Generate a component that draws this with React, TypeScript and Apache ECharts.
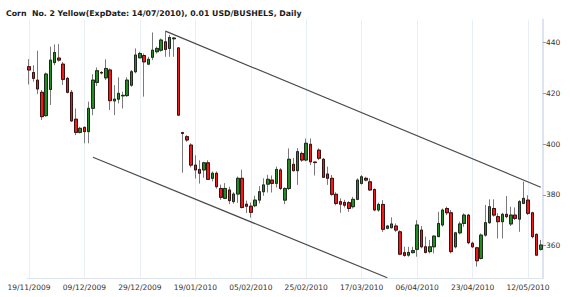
import React, { useEffect, useRef } from 'react';
import * as echarts from 'echarts';

const titleText = 'Corn  No. 2 Yellow(ExpDate: 14/07/2010), 0.01 USD/BUSHELS, Daily';

const dates = [
  '19/11/2009', '20/11/2009', '23/11/2009', '24/11/2009', '25/11/2009', '27/11/2009', '30/11/2009',
  '01/12/2009', '02/12/2009', '03/12/2009', '04/12/2009', '07/12/2009', '08/12/2009', '09/12/2009',
  '10/12/2009', '11/12/2009', '14/12/2009', '15/12/2009', '16/12/2009', '17/12/2009', '18/12/2009',
  '21/12/2009', '22/12/2009', '23/12/2009', '24/12/2009', '28/12/2009', '29/12/2009', '30/12/2009',
  '31/12/2009', '04/01/2010', '05/01/2010', '06/01/2010', '07/01/2010', '08/01/2010', '11/01/2010',
  '12/01/2010', '13/01/2010', '14/01/2010', '15/01/2010', '19/01/2010', '20/01/2010', '21/01/2010',
  '22/01/2010', '25/01/2010', '26/01/2010', '27/01/2010', '28/01/2010', '29/01/2010', '01/02/2010',
  '02/02/2010', '03/02/2010', '04/02/2010', '05/02/2010', '08/02/2010', '09/02/2010', '10/02/2010',
  '11/02/2010', '12/02/2010', '16/02/2010', '17/02/2010', '18/02/2010', '19/02/2010', '22/02/2010',
  '23/02/2010', '24/02/2010', '25/02/2010', '26/02/2010', '01/03/2010', '02/03/2010', '03/03/2010',
  '04/03/2010', '05/03/2010', '08/03/2010', '09/03/2010', '10/03/2010', '11/03/2010', '12/03/2010',
  '15/03/2010', '17/03/2010', '18/03/2010', '19/03/2010', '22/03/2010', '23/03/2010', '24/03/2010',
  '25/03/2010', '26/03/2010', '29/03/2010', '30/03/2010', '31/03/2010', '01/04/2010', '05/04/2010',
  '06/04/2010', '07/04/2010', '08/04/2010', '09/04/2010', '12/04/2010', '13/04/2010', '14/04/2010',
  '15/04/2010', '16/04/2010', '19/04/2010', '20/04/2010', '21/04/2010', '22/04/2010', '23/04/2010',
  '26/04/2010', '27/04/2010', '28/04/2010', '29/04/2010', '30/04/2010', '03/05/2010', '04/05/2010',
  '05/05/2010', '06/05/2010', '07/05/2010', '10/05/2010', '11/05/2010', '12/05/2010', '13/05/2010',
  '14/05/2010', '17/05/2010',
];

const opens = [
  430.5, 428.2, 425.2, 420.4, 411.2, 421.5, 432.1, 433.9, 431.5, 425.9,
  420.4, 409.8, 404.6, 406.6, 404.9, 414.1, 424.3, 428.2, 426.1, 429.2,
  417.0, 417.7, 419.0, 419.1, 423.2, 428.5, 434.0, 434.9, 431.5, 434.2,
  436.4, 437.0, 440.3, 437.7, 441.5, 437.9, 404.5, 402.9, 399.6, 391.7,
  390.0, 389.8, 392.6, 386.5, 388.5, 382.5, 378.6, 381.9, 377.3, 380.3,
  386.5, 376.3, 375.5, 375.7, 377.9, 381.2, 384.2, 385.8, 384.5, 389.8,
  377.9, 382.5, 392.0, 389.5, 396.3, 393.7, 399.9, 392.9, 397.6, 394.0,
  388.2, 386.5, 380.2, 377.3, 377.0, 376.9, 375.3, 378.2, 384.5, 386.5,
  385.1, 382.1, 374.0, 376.2, 366.8, 367.0, 367.7, 365.4, 357.2, 356.2,
  357.2, 358.5, 366.1, 359.5, 357.6, 359.5, 363.5, 368.1, 374.6, 372.9,
  359.5, 365.0, 368.7, 372.0, 360.9, 359.1, 354.9, 364.1, 369.0, 374.6,
  371.4, 369.4, 372.3, 368.5, 372.0, 370.4, 376.6, 377.9, 372.9, 364.4,
  358.5,
];
const closes = [
  429.2, 425.9, 421.7, 410.8, 427.6, 433.1, 436.1, 433.1, 425.5, 420.4,
  409.1, 404.6, 406.2, 404.9, 414.1, 425.2, 428.9, 428.0, 429.8, 417.1,
  417.7, 420.0, 419.2, 425.2, 428.5, 435.1, 435.7, 432.4, 433.4, 437.0,
  437.7, 441.0, 437.3, 442.0, 441.8, 411.4, 404.2, 401.6, 391.7, 389.8,
  388.5, 392.6, 386.1, 388.5, 383.2, 379.0, 382.5, 377.7, 380.3, 386.5,
  375.0, 375.5, 373.1, 377.9, 381.2, 383.9, 386.1, 384.5, 390.0, 382.5,
  382.5, 394.0, 389.5, 397.0, 393.7, 400.3, 393.0, 392.7, 394.4, 386.9,
  386.5, 380.2, 376.6, 376.3, 375.9, 374.6, 378.2, 385.8, 387.1, 385.8,
  381.9, 374.0, 376.2, 366.4, 367.7, 368.5, 366.1, 356.6, 356.1, 357.3,
  358.0, 368.1, 359.5, 357.3, 359.5, 363.7, 368.7, 374.0, 372.9, 357.6,
  365.0, 368.5, 372.0, 361.1, 359.5, 354.0, 364.1, 369.0, 375.3, 372.0,
  369.4, 372.3, 371.4, 372.0, 370.7, 377.3, 378.6, 372.7, 363.5, 356.2,
  360.2,
];
const lows = [
  423.5, 424.6, 419.7, 409.5, 410.8, 415.4, 431.1, 432.5, 423.3, 420.0,
  408.8, 403.5, 404.2, 400.3, 400.3, 411.4, 422.9, 427.5, 425.2, 413.4,
  411.4, 416.0, 414.0, 418.6, 422.6, 427.9, 433.8, 418.7, 431.1, 433.1,
  435.7, 436.4, 434.4, 434.4, 434.4, 411.2, 388.7, 400.9, 390.8, 386.4,
  384.4, 386.7, 386.0, 385.3, 382.4, 378.0, 378.3, 376.3, 376.5, 376.8,
  374.6, 372.8, 371.0, 375.1, 376.6, 379.6, 380.9, 380.9, 382.9, 381.9,
  376.3, 381.9, 389.2, 383.9, 393.0, 393.2, 391.7, 387.6, 393.7, 386.6,
  383.9, 379.6, 375.9, 372.9, 375.0, 373.3, 374.6, 377.9, 384.0, 385.3,
  381.5, 373.5, 373.3, 365.4, 366.4, 366.8, 365.4, 356.2, 355.6, 355.6,
  356.9, 355.6, 358.9, 356.9, 356.9, 356.9, 363.5, 367.4, 372.0, 356.9,
  358.9, 364.4, 367.4, 360.5, 359.0, 351.7, 354.5, 363.5, 368.5, 371.4,
  362.8, 362.8, 370.7, 367.7, 370.0, 365.4, 376.3, 372.0, 362.8, 356.2,
  358.0,
];
const highs = [
  433.5, 431.1, 436.8, 421.3, 428.2, 438.4, 439.3, 439.4, 432.4, 426.5,
  421.3, 414.0, 406.8, 406.8, 416.7, 427.5, 430.2, 428.8, 433.4, 429.8,
  423.2, 426.3, 420.6, 426.3, 429.2, 437.7, 436.4, 435.7, 434.4, 444.0,
  438.4, 441.6, 444.5, 443.0, 442.2, 438.2, 404.8, 403.5, 400.3, 395.6,
  393.6, 393.0, 393.6, 389.2, 389.2, 384.0, 384.6, 383.2, 381.0, 387.2,
  389.9, 377.7, 376.9, 379.6, 383.4, 386.5, 387.9, 387.6, 391.1, 390.5,
  382.9, 398.3, 394.5, 398.4, 397.0, 402.2, 402.2, 393.0, 398.3, 394.5,
  391.1, 387.8, 381.0, 378.6, 378.0, 377.5, 379.2, 386.5, 387.8, 387.1,
  386.5, 382.5, 376.9, 377.9, 368.1, 371.1, 368.7, 366.0, 359.5, 359.5,
  359.5, 370.0, 367.7, 363.5, 362.2, 364.1, 373.3, 374.6, 375.3, 374.0,
  365.4, 369.4, 372.7, 372.5, 361.5, 359.5, 364.8, 376.0, 378.2, 378.2,
  372.7, 372.9, 379.5, 375.3, 375.0, 377.9, 385.2, 379.8, 373.3, 364.8,
  362.2,
];

const priceTicks = [360, 380, 400, 420, 440];
// trend lines: [category index, price]
const upperTrend = [[32, 444.5], [120, 383.0]];
const lowerTrend = [[15, 394.8], [84, 347.3]];

const Y_MIN = 347.2;
const Y_MAX = 449.1;

export default function App() {
  const ref = useRef<HTMLDivElement>(null);
  useEffect(() => {
    document.body.style.margin = '0';
    const chart = echarts.init(ref.current!, null, { renderer: 'svg' });
    const full = opens.map((o, i) => [o, closes[i], lows[i], highs[i]]);
    const bodies = opens.map((o, i) => [o, closes[i], Math.min(o, closes[i]), Math.max(o, closes[i])]);
    const toLine = (t: number[][]) => [
      { coord: [dates[t[0][0]], t[0][1]] },
      { coord: [dates[t[1][0]], t[1][1]] },
    ];
    const step = 4.265;
    const left = 29 - step / 2;
    chart.setOption({
      animation: false,
      backgroundColor: '#ffffff',
      title: {
        text: titleText,
        left: 6,
        top: 8,
        padding: 0,
        textStyle: {
          fontFamily: 'DejaVu Sans',
          fontSize: 7.8,
          fontWeight: 'bold',
          color: '#1a1a1a',
          lineHeight: 10,
        },
      },
      grid: { left, top: 19.5, width: step * dates.length, height: 258.5, containLabel: false },
      xAxis: {
        type: 'category',
        data: dates,
        boundaryGap: true,
        axisLine: { show: true, lineStyle: { color: '#dde6f0', width: 1 } },
        axisTick: { show: false },
        axisLabel: {
          interval: 12,
          fontFamily: 'DejaVu Sans',
          fontSize: 7.5,
          color: '#333333',
          margin: 5,
        },
        splitLine: {
          show: true,
          interval: 12,
          alignWithLabel: true,
          lineStyle: { color: '#e8eef6', width: 1 },
        },
      },
      yAxis: {
        type: 'value',
        position: 'right',
        min: Y_MIN,
        max: Y_MAX,
        axisLine: { show: true, lineStyle: { color: '#dbe4f0', width: 2 } },
        axisTick: { show: true, length: 3, customValues: priceTicks, lineStyle: { color: '#999999' } },
        axisLabel: {
          customValues: priceTicks,
          fontFamily: 'DejaVu Sans',
          fontSize: 7.5,
          color: '#333333',
          margin: 3,
        },
        splitLine: { show: false },
      },
      series: [
        {
          type: 'candlestick',
          data: full,
          barWidth: 3,
          clip: false,
          itemStyle: {
            color: '#228b22',
            color0: '#f01a1a',
            borderColor: '#7a7a7a',
            borderColor0: '#7a7a7a',
            borderWidth: 1,
          },
          silent: true,
        },
        {
          type: 'candlestick',
          data: bodies,
          barWidth: 3,
          clip: false,
          itemStyle: {
            color: '#228b22',
            color0: '#f01a1a',
            borderColor: '#1e2a1e',
            borderColor0: '#3a1010',
            borderWidth: 1,
          },
          silent: true,
          markLine: {
            silent: true,
            symbol: ['none', 'none'],
            label: { show: false },
            lineStyle: { color: '#4a4a4a', width: 1.2, type: 'solid' },
            emphasis: { disabled: true },
            data: [toLine(upperTrend), toLine(lowerTrend)],
          },
        },
      ],
    });
    return () => chart.dispose();
  }, []);
  return <div ref={ref} style={{ width: 570, height: 297 }} />;
}
